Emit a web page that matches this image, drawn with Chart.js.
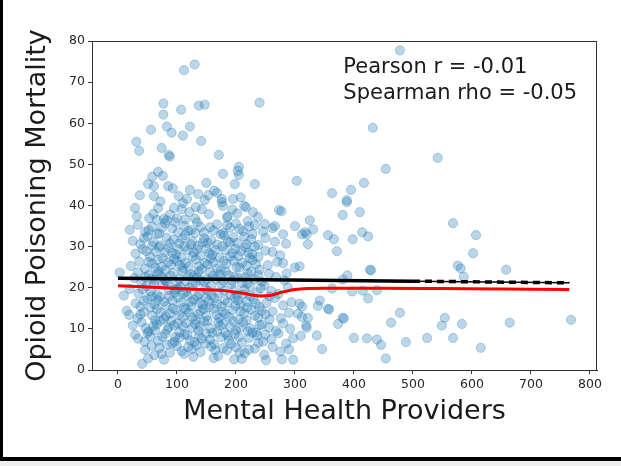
<!DOCTYPE html>
<html>
<head>
<meta charset="utf-8">
<script src="https://cdn.jsdelivr.net/npm/chart.js@4"></script>
<style>
  html, body { margin: 0; padding: 0; background: #ffffff; }
  #wrap { width: 621px; height: 466px; }
</style>
</head>
<body>
<div id="wrap"><canvas id="chart" width="621" height="466"></canvas></div>
<script>
// Axis labels and tick values
const xTitle = 'Mental Health Providers';
const yTitle = 'Opioid Poisoning Mortality';
const xTickValues = [0, 100, 200, 300, 400, 500, 600, 700, 800];
const yTickValues = [0, 10, 20, 30, 40, 50, 60, 70, 80];
const statLines = ['Pearson r = -0.01', 'Spearman rho = -0.05'];

// Counties: [mental health providers, opioid poisoning mortality]
const countyPoints = [
  [41,1.5],[51,2.8],[78,2.5],[197,2.6],[210,2.7],[251,2.4],[278,2.6],[297,2.5],[454,2.8],
  [46,4.9],[62,3.6],[70,5.4],[88,4.2],[100,5.8],[112,3.9],[125,5.1],[140,4.4],[158,5.7],[170,3.4],[185,4.8],[200,5.5],[215,4.1],[232,5.2],[248,3.7],[262,5.6],[275,4.5],[290,5.0],[346,5.1],[446,6.1],[488,6.8],[615,5.4],
  [29,8.6],[34,7.6],[45,6.9],[55,8.2],[68,7.1],[80,8.8],[92,6.5],[105,7.9],[118,8.5],[130,6.8],[142,7.6],[150,8.9],[163,6.3],[175,8.0],[188,7.2],[198,8.7],[210,6.6],[222,7.8],[236,8.4],[246,6.9],[260,7.5],[272,8.9],[285,6.4],[297,7.7],[310,8.3],[337,8.4],[400,7.8],[422,7.7],[439,7.4],[524,7.8],[568,7.8],
  [25,10.8],[40,11.6],[52,9.4],[60,10.7],[72,11.9],[84,9.8],[95,10.9],[104,9.2],[116,11.4],[126,10.3],[136,9.6],[146,11.8],[157,10.1],[168,9.3],[178,11.2],[190,10.5],[200,9.7],[212,11.6],[224,10.2],[235,9.1],[244,11.0],[256,10.4],[268,9.5],[280,11.3],[292,10.0],[319,10.8],[320,10.3],[373,11.2],[463,11.5],[549,10.8],[583,11.2],[664,11.5],[768,12.2],
  [15,14.4],[19,13.4],[33,12.6],[44,14.1],[58,13.2],[66,14.8],[78,12.4],[88,13.7],[98,14.6],[110,12.9],[120,13.9],[132,12.2],[140,14.3],[150,13.1],[162,14.9],[172,12.7],[182,13.6],[194,14.5],[204,12.3],[214,13.8],[226,14.7],[238,12.8],[250,13.5],[262,14.2],[276,12.6],[290,13.9],[305,13.7],[312,12.9],[322,12.7],[356,14.9],[358,14.7],[381,12.7],[383,12.5],[478,13.9],[554,12.7],
  [10,18.1],[30,16.2],[38,15.4],[50,17.3],[62,16.0],[72,17.8],[82,15.6],[92,16.9],[102,17.6],[112,15.2],[124,16.6],[134,17.9],[144,15.8],[154,16.8],[164,17.4],[176,15.5],[186,16.4],[198,17.7],[208,15.9],[218,16.7],[230,17.2],[240,15.3],[252,16.3],[266,17.5],[280,15.7],[294,16.5],[308,16.1],[312,15.4],[339,15.6],[342,16.9],[424,17.4],
  [20,19.7],[35,18.6],[48,20.4],[56,19.1],[66,18.3],[76,20.8],[86,19.4],[96,18.8],[106,20.2],[116,19.0],[126,20.7],[138,18.4],[148,19.8],[158,20.5],[170,18.7],[180,19.3],[192,20.9],[202,18.2],[214,19.6],[224,20.3],[236,18.9],[248,20.6],[260,19.2],[272,18.5],[288,20.1],[363,19.8],[397,19.1],[415,19.3],[439,19.4],
  [3,23.7],[28,22.4],[40,21.3],[52,23.1],[62,21.9],[74,22.8],[84,21.2],[94,23.6],[104,22.1],[114,21.6],[124,23.3],[134,22.5],[146,21.4],[156,23.8],[166,22.2],[178,21.7],[188,23.0],[198,22.7],[210,21.1],[220,23.5],[232,22.0],[244,21.5],[256,23.4],[268,22.6],[282,21.8],[286,23.5],[381,22.0],[389,23.0],[429,24.2],[586,22.7],[658,24.4],
  [22,25.3],[36,26.4],[46,24.6],[58,25.9],[68,26.8],[80,24.3],[90,25.6],[100,26.5],[110,24.8],[120,25.2],[132,26.9],[142,24.5],[152,25.7],[162,26.2],[174,24.2],[184,25.8],[196,26.6],[206,24.9],[218,25.4],[228,26.7],[240,24.4],[254,25.5],[270,26.3],[280,26.0],[300,24.9],[308,25.2],[427,24.4],[576,25.4],[581,24.7],
  [30,28.3],[42,29.4],[54,27.6],[64,28.8],[76,27.2],[86,29.7],[98,28.1],[108,27.4],[118,29.2],[128,28.6],[140,27.8],[150,29.5],[160,28.0],[172,27.3],[182,29.1],[194,28.4],[204,27.7],[216,29.8],[228,28.2],[238,27.5],[250,29.0],[262,28.7],[275,27.9],[322,30.6],[371,28.9],[602,28.4],
  [25,31.4],[38,30.6],[50,32.5],[60,31.1],[72,30.3],[82,32.2],[94,31.7],[104,30.8],[114,32.8],[126,31.3],[136,30.2],[146,32.0],[158,31.6],[168,30.5],[180,32.7],[190,31.0],[202,30.9],[214,32.4],[226,31.8],[238,30.4],[250,32.1],[266,31.2],[285,30.7],[312,33.0],[320,33.0],[356,32.8],[366,31.8],[398,31.8],[424,32.5],[607,32.8],
  [20,34.1],[34,35.3],[46,33.6],[58,34.8],[70,33.2],[80,35.7],[92,34.4],[102,33.5],[112,35.1],[124,34.0],[134,35.9],[146,33.4],[156,34.7],[168,35.4],[178,33.3],[190,34.6],[200,35.6],[212,33.8],[222,34.9],[232,35.2],[246,33.7],[262,34.5],[280,33.0],[300,35.0],[317,33.5],[331,34.2],[414,33.5],[568,35.7],[249,35.5],[266,35.0],
  [29,39.4],[32,37.4],[53,36.9],[66,36.5],[68,39.4],[78,36.8],[83,36.4],[95,39.4],[100,36.9],[108,39.1],[114,36.6],[131,36.8],[132,39.6],[142,39.1],[176,40.8],[178,39.9],[186,37.4],[185,37.0],[202,38.1],[214,39.9],[217,39.6],[220,36.2],[237,37.2],[273,38.9],[277,38.6],[325,36.4],[381,37.7],[410,38.4],[388,40.8],
  [37,42.5],[61,42.3],[103,42.3],[117,41.6],[147,41.3],[176,41.6],[195,41.6],[153,42.5],[163,43.6],[122,43.8],[51,45.2],[61,44.7],[85,44.7],[93,44.2],[150,45.5],[198,45.2],[232,45.2],[363,43.0],[395,43.8],[388,41.3],[417,45.5],
  [58,47.0],[68,48.2],[76,47.2],[178,47.7],[205,49.4],[203,48.4],[205,47.4],[303,46.0],[454,48.9],[86,52.3],[88,51.9],[171,52.3],[74,54.0],[36,53.3],[31,55.5],[141,55.7],[542,51.6],
  [110,57.0],[91,57.7],[56,58.4],[83,59.2],[122,59.2],[432,58.9],[77,62.1],[107,63.3],[77,64.8],[137,64.3],[147,64.5],[240,65.0],[112,72.9],[130,74.3],[478,77.7],
  [57,5.9],[83,6.2],[108,4.6],[133,6.0],[165,4.8],[192,6.3],[222,5.0],
  [50,9.0],[75,8.1],[97,8.0],[122,7.2],[137,8.3],[156,7.4],[182,9.0],[205,8.0],[228,9.1],
  [47,10.2],[66,11.1],[90,12.0],[110,10.6],[131,11.2],[152,12.0],[173,10.8],[195,11.9],[218,12.1],[240,10.9],
  [38,13.5],[72,14.0],[93,15.0],[115,14.8],[126,12.8],[145,14.9],[167,13.4],[188,12.9],[208,14.3],[232,13.2],
  [44,16.8],[67,17.0],[87,18.0],[107,16.4],[118,18.0],[139,16.3],[159,18.1],[181,17.0],[203,16.9],[224,18.0],
  [42,19.6],[61,20.9],[81,21.6],[101,19.8],[121,20.0],[132,21.2],[153,19.2],[175,20.9],[197,19.4],[219,21.0],[242,19.9],
  [34,23.8],[57,22.3],[69,24.0],[89,22.9],[109,24.1],[129,23.0],[140,21.8],[161,22.9],[183,24.0],[204,22.4],[226,23.9],
  [52,26.3],[74,25.1],[95,27.0],[115,26.0],[137,25.2],[157,27.1],[179,26.5],[201,25.0],[223,27.2],
  [48,28.9],[70,29.9],[92,28.5],[113,30.0],[134,29.3],[155,28.4],[177,30.1],[199,29.5],[221,28.5],
  [44,32.0],[66,33.1],[88,30.8],[109,32.0],[131,33.3],[152,30.9],[174,33.0],[196,32.3],[218,30.6],
  [74,3.9],[96,6.9],[119,5.6],[148,6.4],[178,5.3],[206,4.2],[238,6.6],[128,3.2],[162,2.9],
  [63,9.6],[86,10.4],[101,11.3],[113,8.7],[140,10.7],[160,9.0],[170,11.6],[186,8.4],[207,10.3],[220,9.4],[250,8.6],
  [55,15.2],[63,12.1],[81,13.1],[104,13.3],[124,15.5],[136,13.6],[155,15.3],[177,14.2],[199,15.6],[219,15.2],[244,14.4],[257,12.3],
  [57,17.9],[78,16.6],[97,19.6],[111,18.6],[129,17.1],[149,17.6],[168,16.1],[191,18.3],[212,18.4],[234,16.2],[257,17.9],
  [46,22.6],[67,23.3],[79,22.0],[99,21.0],[119,22.8],[137,23.9],[151,22.1],[172,23.2],[193,21.7],[215,22.5],[238,23.1],
  [63,24.8],[85,26.2],[105,25.5],[126,27.5],[147,26.0],[168,24.7],[190,27.6],[211,26.1],[234,25.7],
  [58,30.2],[80,28.6],[102,29.4],[123,30.6],[144,31.0],[165,29.2],[186,31.3],[209,28.9],[232,30.0],
  [52,34.0],[75,34.6],[97,35.9],[119,33.8],[140,34.8],[162,33.9],[185,35.2],[206,34.3],[228,33.1],
  [60,38.0],[88,37.8],[121,38.4],[154,37.9],[194,39.0],[229,38.4],
  [72,41.0],[110,40.6],[136,42.8],[168,43.1],[208,42.0]
];

// Linear fit (black) and lowess smooth (red)
const fitLine = [[0, 22.3], [500, 21.6]];
const fitLineTail = [[500, 21.6], [765, 21.2]];
const lowessLine = [
  [0,20.5],[60,20.1],[120,19.7],[180,19.3],[210,18.7],[240,18.0],[260,18.2],
  [280,19.0],[300,19.6],[350,19.9],[450,19.9],[550,19.8],[650,19.7],[765,19.6]
];

const toXY = arr => arr.map(([x, y]) => ({x, y}));
const FONT = "'DejaVu Sans', sans-serif";
const AXIS_COLOR = '#333333';

// Frame, top/right spines and the correlation annotation
const decorations = {
  id: 'decorations',
  beforeDraw(chart) {
    const ctx = chart.ctx;
    ctx.save();
    ctx.fillStyle = '#ffffff';
    ctx.fillRect(0, 0, chart.width, chart.height);
    ctx.restore();
  },
  afterDraw(chart) {
    const ctx = chart.ctx;
    const a = chart.chartArea;
    ctx.save();
    ctx.strokeStyle = AXIS_COLOR;
    ctx.lineWidth = 1;
    ctx.beginPath();
    ctx.moveTo(a.left, a.top + 0.5);
    ctx.lineTo(a.right, a.top + 0.5);
    ctx.moveTo(a.right - 0.5, a.top);
    ctx.lineTo(a.right - 0.5, a.bottom);
    ctx.stroke();

    const xs = chart.scales.x, ys = chart.scales.y;
    ctx.fillStyle = '#1a1a1a';
    ctx.font = '21px ' + FONT;
    ctx.textBaseline = 'alphabetic';
    ctx.textAlign = 'left';
    const tx = xs.getPixelForValue(382);
    ctx.fillText(statLines[0], tx, ys.getPixelForValue(72.1));
    ctx.fillText(statLines[1], tx, ys.getPixelForValue(66.0));

    // outer frame
    ctx.fillStyle = '#000000';
    ctx.fillRect(0, 0, 3, 461);
    ctx.fillRect(0, 457, chart.width, 4);
    ctx.fillStyle = '#eeeeee';
    ctx.fillRect(0, 461, chart.width, chart.height - 461);
    ctx.restore();
  }
};

new Chart(document.getElementById('chart'), {
  type: 'scatter',
  data: {
    datasets: [
      {
        label: 'Linear fit',
        data: toXY(fitLine),
        showLine: true,
        borderColor: '#000000',
        borderWidth: 3.5,
        pointRadius: 0,
        order: 0
      },
      {
        label: 'Linear fit tail',
        data: toXY(fitLineTail),
        showLine: true,
        borderColor: '#000000',
        borderWidth: 1.5,
        pointRadius: 0,
        order: 0
      },
      {
        label: 'Linear fit band',
        data: toXY(fitLineTail),
        showLine: true,
        borderColor: '#000000',
        borderWidth: 3.5,
        borderDash: [7, 5],
        pointRadius: 0,
        order: 0
      },
      {
        label: 'Lowess',
        data: toXY(lowessLine),
        showLine: true,
        borderColor: '#ff0000',
        borderWidth: 3,
        cubicInterpolationMode: 'monotone',
        pointRadius: 0,
        order: 0
      },
      {
        label: 'Counties',
        data: toXY(countyPoints),
        backgroundColor: 'rgba(31,119,180,0.3)',
        borderColor: 'rgba(31,119,180,0.3)',
        borderWidth: 1,
        pointRadius: 4.6,
        order: 1
      }
    ]
  },
  options: {
    responsive: false,
    animation: false,
    events: [],
    layout: { padding: { left: 0, right: 24, top: 41, bottom: 0 } },
    plugins: {
      legend: { display: false },
      tooltip: { enabled: false }
    },
    scales: {
      x: {
        type: 'linear',
        min: -44,
        max: 812,
        afterBuildTicks: s => { s.ticks = xTickValues.map(v => ({value: v})); },
        afterFit: s => { s.height = 96; },
        ticks: { font: { family: FONT, size: 12.5 }, color: '#262626', padding: 3, maxRotation: 0 },
        grid: { drawOnChartArea: false, drawTicks: true, tickLength: 4, tickColor: AXIS_COLOR },
        border: { display: true, color: AXIS_COLOR, width: 1 },
        title: {
          display: true,
          text: xTitle,
          font: { family: FONT, size: 27 },
          color: '#1a1a1a',
          padding: { top: 0, bottom: 38 }
        }
      },
      y: {
        type: 'linear',
        min: 0,
        max: 80,
        afterBuildTicks: s => { s.ticks = yTickValues.map(v => ({value: v})); },
        afterFit: s => { s.width = 92; },
        ticks: { font: { family: FONT, size: 12.5 }, color: '#262626', padding: 3 },
        grid: { drawOnChartArea: false, drawTicks: true, tickLength: 4, tickColor: AXIS_COLOR },
        border: { display: true, color: AXIS_COLOR, width: 1 },
        title: {
          display: true,
          text: yTitle,
          font: { family: FONT, size: 27 },
          color: '#1a1a1a',
          padding: { top: 22, bottom: 0 }
        }
      }
    }
  },
  plugins: [decorations]
});
</script>
</body>
</html>
